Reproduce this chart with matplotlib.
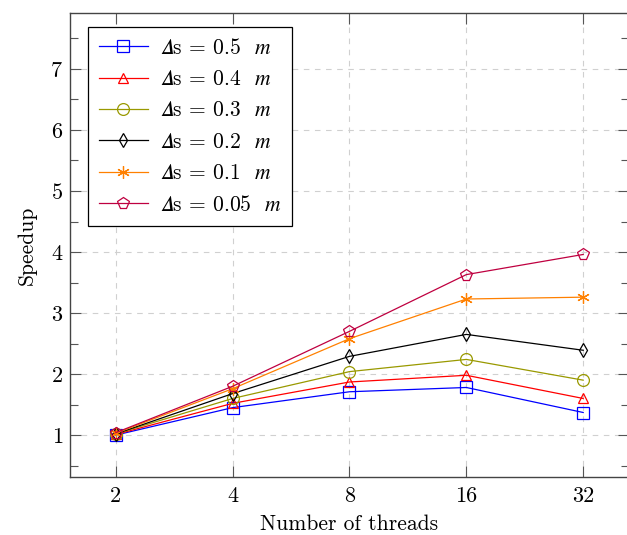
import matplotlib
matplotlib.use("Agg")
import matplotlib.pyplot as plt
from matplotlib.ticker import MultipleLocator

plt.rcParams['font.family'] = ['cmr10', 'DejaVu Serif']
plt.rcParams['mathtext.fontset'] = 'cm'
plt.rcParams['axes.formatter.use_mathtext'] = True

threads = ['2', '4', '8', '16', '32']
labels = ['0.5', '0.4', '0.3', '0.2', '0.1', '0.05']

# speedup per step size
speedup_05 = [1.00, 1.45, 1.71, 1.78, 1.37]
speedup_04 = [1.01, 1.52, 1.87, 1.98, 1.60]
speedup_03 = [1.02, 1.60, 2.04, 2.24, 1.90]
speedup_02 = [1.02, 1.68, 2.29, 2.65, 2.39]
speedup_01 = [1.03, 1.76, 2.58, 3.23, 3.26]
speedup_005 = [1.04, 1.80, 2.70, 3.63, 3.96]

series = [speedup_05, speedup_04, speedup_03, speedup_02, speedup_01, speedup_005]
colors = ['#0000ff', '#ff0000', '#999900', '#000000', '#ff8000', '#bf0040']
markers = ['s', '^', 'o', 'd', (6, 2, 0), 'p']
msizes = [8.5, 7.5, 8.5, 7, 9, 8.5]

fig = plt.figure(figsize=(6.27, 5.35), dpi=100)
ax = fig.add_axes([70 / 627, 58 / 535, 559 / 627, 464 / 535])

x = list(range(len(threads)))
for vals, lab, c, m, ms in zip(series, labels, colors, markers, msizes):
    ax.plot(x, vals, color=c, lw=0.9, marker=m, markersize=ms,
            markerfacecolor='none' if m != (6, 2, 0) else c,
            markeredgecolor=c, markeredgewidth=0.9,
            label='$\U0001D6E5$s = ' + lab + r'  $m$')

ax.set_xlim(-0.392, 4.392)
ax.set_ylim(0.313, 7.917)
ax.set_xticks(x)
ax.set_xticklabels(threads)
ax.yaxis.set_major_locator(MultipleLocator(1))
ax.yaxis.set_minor_locator(MultipleLocator(0.5))
ax.set_yticks(range(1, 8))

ax.grid(True, which='major', color='#d0d0d0', linestyle=(0, (5, 5)), lw=0.8)
ax.tick_params(which='both', direction='in', top=True, right=True,
               color='#555555', width=0.8, labelsize=16)
ax.tick_params(axis='y', pad=5)
ax.tick_params(axis='x', pad=7)
ax.tick_params(which='major', length=8)
ax.tick_params(which='minor', length=5.5)
for s in ax.spines.values():
    s.set_color('#444444')
    s.set_linewidth(1.0)

ax.set_xlabel('Number of threads', fontsize=15.5, labelpad=6)
ax.set_ylabel('Speedup', fontsize=15.5, labelpad=10)

leg = ax.legend(loc='upper left', bbox_to_anchor=(0.032, 0.970), borderaxespad=0,
                fontsize=15.5, handlelength=2.28, handletextpad=0.55,
                labelspacing=0.55, fancybox=False, framealpha=1,
                edgecolor='black', borderpad=0.5)
leg.get_frame().set_linewidth(0.9)
for t in leg.get_texts():
    t.set_math_fontfamily('stix')

fig.savefig('out.png', dpi=100)
